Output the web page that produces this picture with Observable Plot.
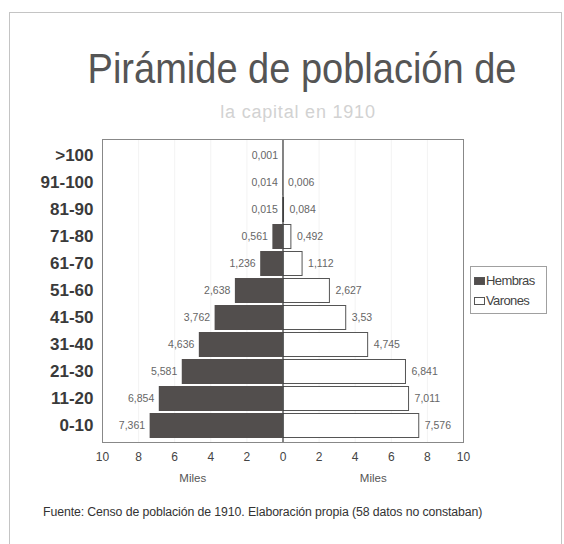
<!DOCTYPE html>
<html>
<head>
<meta charset="utf-8">
<script src="https://cdn.jsdelivr.net/npm/d3@7"></script>
<script src="https://cdn.jsdelivr.net/npm/@observablehq/plot@0.6"></script>
<style>
  html, body { margin: 0; padding: 0; background: #fff; }
  #page {
    position: relative; width: 564px; height: 544px; overflow: hidden;
    font-family: "Liberation Sans", Arial, sans-serif; background: #fff;
  }
  #page svg { position: absolute; left: 0; top: 0; }
  .border {
    position: absolute; left: 9px; top: 12px; width: 553px; height: 540px;
    border: 1px solid #c4c4c4; box-sizing: border-box;
  }
  .title {
    position: absolute; left: 0; width: 604px; top: 46px; text-align: center;
    font-size: 38px; color: #555; white-space: nowrap;
    transform: scale(1, 1.1); transform-origin: 50% 0;
  }
  .subtitle {
    position: absolute; left: 0; width: 596px; top: 102px; text-align: center;
    font-size: 18px; color: #d2d2d2; letter-spacing: 0.8px; white-space: nowrap;
  }
  .caption {
    position: absolute; left: 43px; top: 505px; font-size: 12.3px; color: #333;
    white-space: nowrap; letter-spacing: -0.1px;
  }
  .legend {
    position: absolute; left: 470px; top: 266px; width: 77px; height: 48px;
    border: 1px solid #a0a0a0; box-sizing: border-box; font-size: 13px; color: #444;
    letter-spacing: -0.6px; padding: 6px 0 0 3px;
  }
  .legend div { height: 20px; line-height: 16px; white-space: nowrap; }
  .legend span.sw {
    display: inline-block; width: 11px; height: 8px; margin-right: 1px;
    border: 1px solid #555; box-sizing: border-box; vertical-align: 0px;
  }
  svg [aria-label="y-axis tick label"] text { font-weight: bold; }
</style>
</head>
<body>
<div id="page">
  <div class="border"></div>
  <div class="title">Pirámide de población de</div>
  <div class="subtitle">la capital en 1910</div>
  <div id="chart"></div>
  <div class="legend" id="legend"></div>
  <div class="caption">Fuente: Censo de población de 1910. Elaboración propia (58 datos no constaban)</div>
</div>
<script>
// Age groups, top to bottom
const ageGroups = [">100", "91-100", "81-90", "71-80", "61-70", "51-60", "41-50", "31-40", "21-30", "11-20", "0-10"];
// Population in thousands
const hembras = [0.001, 0.014, 0.015, 0.561, 1.236, 2.638, 3.762, 4.636, 5.581, 6.854, 7.361];
const varones = [null, 0.006, 0.084, 0.492, 1.112, 2.627, 3.53, 4.745, 6.841, 7.011, 7.576];
const xTicks = [-10, -8, -6, -4, -2, 0, 2, 4, 6, 8, 10];
const gridTicks = [-8, -6, -4, -2, 2, 4, 6, 8];
const seriesNames = ["Hembras", "Varones"];
const axisTitles = [{x: -5, label: "Miles"}, {x: 5, label: "Miles"}];

const colorH = "#524e4d";
const fmt = v => String(v).replace(".", ",");

const rowsH = ageGroups.map((g, i) => ({group: g, value: hembras[i]}));
const rowsV = ageGroups.map((g, i) => ({group: g, value: varones[i]})).filter(d => d.value != null);

const chart = Plot.plot({
  width: 564,
  height: 544,
  marginLeft: 102,
  marginRight: 101,
  marginTop: 139,
  marginBottom: 102,
  style: {background: "transparent", fontFamily: "Liberation Sans, Arial, sans-serif"},
  x: {domain: [-10, 10]},
  y: {domain: ageGroups, paddingInner: 0.08, paddingOuter: 0.02},
  marks: [
    Plot.gridX(gridTicks, {stroke: "#000", strokeOpacity: 0.05}),
    Plot.barX(rowsH, {y: "group", x1: 0, x2: d => -d.value, fill: colorH}),
    Plot.barX(rowsV, {y: "group", x1: 0, x2: "value", fill: "#fff", stroke: "#555", strokeWidth: 1, inset: 0.5}),
    Plot.text(rowsH, {y: "group", x: d => -d.value, text: d => fmt(d.value), textAnchor: "end", dx: -5, fontSize: 10.5, fill: "#666"}),
    Plot.text(rowsV, {y: "group", x: "value", text: d => fmt(d.value), textAnchor: "start", dx: 5, fontSize: 10.5, fill: "#666"}),
    Plot.ruleX([0], {stroke: "#333", strokeWidth: 1.2}),
    Plot.frame({stroke: "#888"}),
    Plot.axisX(xTicks, {tickSize: 0, tickPadding: 10, tickFormat: d => Math.abs(d), fontSize: 12, fill: "#444", label: null}),
    Plot.axisY({tickSize: 0, tickPadding: 9, fontSize: 17, fill: "#3a3a3a", label: null}),
    Plot.text(axisTitles, {x: "x", text: "label", frameAnchor: "bottom", dy: 39, fontSize: 11.5, fill: "#555"})
  ]
});
document.getElementById("chart").appendChild(chart);

// Legend
const legend = document.getElementById("legend");
seriesNames.forEach((name, i) => {
  const row = document.createElement("div");
  const sw = document.createElement("span");
  sw.className = "sw";
  sw.style.background = i === 0 ? colorH : "#fff";
  row.appendChild(sw);
  row.appendChild(document.createTextNode(name));
  legend.appendChild(row);
});
</script>
</body>
</html>
